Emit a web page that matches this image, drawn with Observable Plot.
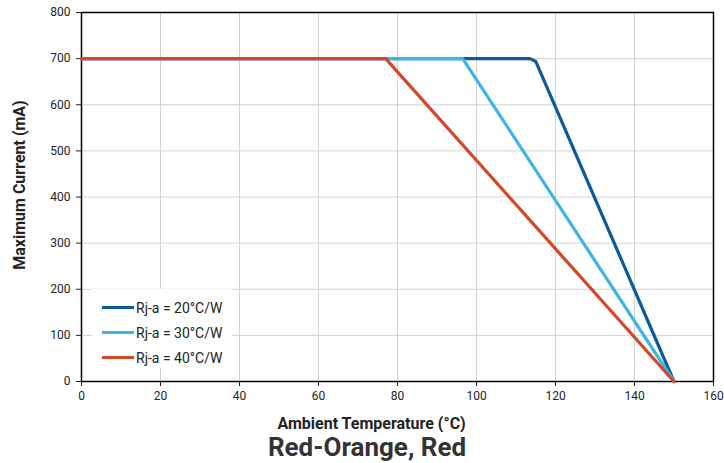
<!DOCTYPE html>
<html><head><meta charset="utf-8">
<script src="https://cdn.jsdelivr.net/npm/d3@7"></script>
<script src="https://cdn.jsdelivr.net/npm/@observablehq/plot@0.6"></script>
<style>
body{margin:0;background:#fff;font-family:Roboto,sans-serif;}
#wrap{position:relative;width:724px;height:463px;}
#title{position:absolute;left:81px;width:572px;top:432px;text-align:center;font:bold 26px Roboto,sans-serif;color:#333;line-height:30px;}
#legend{position:absolute;left:92px;top:289px;width:140px;height:79px;background:#fff;font:14px Roboto,sans-serif;color:#222;}
.li{position:absolute;left:10px;display:flex;align-items:center;line-height:16px;}
.sw{width:32px;height:3.5px;margin-right:2px;}
</style></head><body>
<div id="wrap"></div>
<script>
const seriesNames = ["Rj-a = 20°C/W", "Rj-a = 30°C/W", "Rj-a = 40°C/W"];
const colors = ["#0b5a9a", "#3fb4e6", "#d4482a"];
const temp20 = [0, 113.5, 115, 150];
const cur20 = [700, 700, 694, 0];
const temp30 = [0, 96.5, 150];
const cur30 = [700, 700, 0];
const temp40 = [0, 77, 150];
const cur40 = [700, 700, 0];
const xTicks = [0, 20, 40, 60, 80, 100, 120, 140, 160];
const yTicks = [0, 100, 200, 300, 400, 500, 600, 700, 800];
const xLabel = "Ambient Temperature (°C)";
const yLabel = "Maximum Current (mA)";

const rows = [];
[[temp20, cur20], [temp30, cur30], [temp40, cur40]].forEach(([t, c], i) => {
  t.forEach((v, j) => rows.push({series: seriesNames[i], t: v, c: c[j]}));
});

const chart = Plot.plot({
  width: 724, height: 432,
  marginLeft: 81, marginRight: 11, marginTop: 12, marginBottom: 51,
  style: {fontFamily: "Roboto, sans-serif", fontSize: "12px", color: "#222", background: "#fff"},
  x: {domain: [0, 160], ticks: xTicks, label: null},
  y: {domain: [0, 800], ticks: yTicks, label: null},
  color: {domain: seriesNames, range: colors},
  marks: [
    Plot.gridX(xTicks, {stroke: "#d4d4d4", strokeOpacity: 1, strokeWidth: 1}),
    Plot.gridY(yTicks, {stroke: "#d4d4d4", strokeOpacity: 1, strokeWidth: 1}),
    Plot.axisX({ticks: xTicks, tickSize: 5, tickPadding: 5, label: null, fontSize: 12}),
    Plot.axisY({ticks: yTicks, tickSize: 5, tickPadding: 6, label: null, fontSize: 12}),
    Plot.frame({stroke: "#000", strokeWidth: 1.5}),
    Plot.line(rows, {x: "t", y: "c", z: "series", stroke: "series", strokeWidth: 3.2, strokeLinejoin: "round"}),
    Plot.text([xLabel], {frameAnchor: "bottom", textAnchor: "middle", lineAnchor: "bottom", dx: -26, dy: 47, fontSize: 16, fontWeight: "bold", fill: "#222"}),
    Plot.text([yLabel], {frameAnchor: "left", textAnchor: "middle", lineAnchor: "middle", rotate: -90, dx: -62, dy: -12, fontSize: 16, fontWeight: "bold", fill: "#222"})
  ]
});
const wrap = document.getElementById("wrap");
wrap.appendChild(chart);

const leg = document.createElement("div");
leg.id = "legend";
seriesNames.forEach((n, i) => {
  const d = document.createElement("div");
  d.className = "li";
  d.style.top = (10.5 + i * 25) + "px";
  d.innerHTML = `<span class="sw" style="background:${colors[i]}"></span><span>${n}</span>`;
  leg.appendChild(d);
});
wrap.appendChild(leg);

const title = document.createElement("div");
title.id = "title";
title.textContent = "Red-Orange, Red";
wrap.appendChild(title);
</script>
</body></html>
